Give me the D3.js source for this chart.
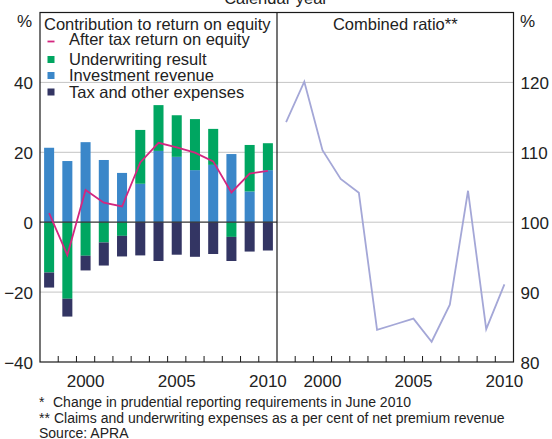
<!DOCTYPE html>
<html lang="en">
<head>
<meta charset="UTF-8">
<title>Contribution to return on equity and combined ratio</title>
<style>
  html, body { margin: 0; padding: 0; background: #fff; }
  svg { display: block; font-family: "Liberation Sans", Arial, sans-serif; }
  text { fill: #222; }
</style>
</head>
<body>
<svg id="chart" width="552" height="439"></svg>
<script src="https://cdn.jsdelivr.net/npm/d3@7"></script>
<script>
// data
const years = ['1998', '1999', '2000', '2001', '2002', '2003', '2004', '2005', '2006', '2007', '2008', '2009', '2010'];
const investment = [21.3, 17.5, 22.9, 17.8, 14.1, 11.0, 20.4, 18.7, 14.9, 16.4, 19.5, 8.8, 14.9];
const underwriting = [-14.4, -21.9, -9.6, -5.8, -3.9, 15.4, 13.1, 11.9, 14.6, 10.3, -4.2, 13.3, 7.7];
const taxOther = [-4.3, -5.1, -4.2, -6.6, -5.9, -9.5, -11.1, -9.3, -9.9, -9.1, -6.9, -8.4, -8.1];
const afterTaxRoe = [2.6, -9.4, 9.2, 5.6, 4.5, 17.1, 22.7, 21.4, 19.9, 17.4, 8.5, 13.9, 14.7];
const combinedRatio = [114.3, 120.1, 110.3, 106.2, 104.2, 84.6, 85.4, 86.2, 82.9, 88.2, 104.5, 84.7, 91.1];
const leftTicks = [-40, -20, 0, 20, 40];
const rightTicks = [80, 90, 100, 110, 120];
const yearLabels = ['2000', '2005', '2010'];

const svg = d3.select('#chart');
const plotTop = 12.5, plotBottom = 362;
const xL0 = 40, xMid = 277, xR1 = 513.5;

const yL = d3.scaleLinear().domain([-40, 60]).range([plotBottom, plotTop]);
const yR = d3.scaleLinear().domain([80, 130]).range([plotBottom, plotTop]);
const xLeft = d3.scaleBand().domain(years).range([xL0, xMid]);
const xRight = d3.scaleBand().domain(years).range([xMid, xR1]);
const barFrac = 0.55;

// gridlines across both panels
svg.append('g').selectAll('line')
  .data(leftTicks.filter(d => d !== 0 && d !== -40))
  .join('line')
  .attr('x1', xL0).attr('x2', xR1)
  .attr('y1', d => yL(d)).attr('y2', d => yL(d))
  .attr('stroke', '#c4c4c4').attr('stroke-width', 1);
svg.append('line')
  .attr('x1', xMid).attr('x2', xR1)
  .attr('y1', yR(100)).attr('y2', yR(100))
  .attr('stroke', '#c4c4c4').attr('stroke-width', 1);

// stacked bars
const rows = years.map((y, i) => ({ year: y, inv: investment[i], uw: underwriting[i], tax: taxOther[i] }));
const stack = d3.stack().keys(['inv', 'uw', 'tax']).offset(d3.stackOffsetDiverging);
const colors = { inv: '#3b87c9', uw: '#00a661', tax: '#333563' };

svg.append('g').selectAll('g')
  .data(stack(rows))
  .join('g')
  .attr('fill', d => colors[d.key])
  .selectAll('rect')
  .data(d => d)
  .join('rect')
  .attr('x', d => xLeft(d.data.year) + xLeft.bandwidth() * (1 - barFrac) / 2)
  .attr('width', xLeft.bandwidth() * barFrac)
  .attr('y', d => yL(Math.max(d[0], d[1])))
  .attr('height', d => Math.abs(yL(d[0]) - yL(d[1])));

// zero line on the left panel
svg.append('line')
  .attr('x1', xL0).attr('x2', xMid)
  .attr('y1', yL(0)).attr('y2', yL(0))
  .attr('stroke', '#333').attr('stroke-width', 1.2);

// after tax return on equity
const roeLine = d3.line()
  .x((d, i) => xLeft(years[i]) + xLeft.bandwidth() / 2)
  .y(d => yL(d));
svg.append('path')
  .datum(afterTaxRoe)
  .attr('d', roeLine)
  .attr('fill', 'none')
  .attr('stroke', '#d4267f')
  .attr('stroke-width', 1.8);

// combined ratio
const crLine = d3.line()
  .x((d, i) => xRight(years[i]) + xRight.bandwidth() / 2)
  .y(d => yR(d));
svg.append('path')
  .datum(combinedRatio)
  .attr('d', crLine)
  .attr('fill', 'none')
  .attr('stroke', '#a4a7d7')
  .attr('stroke-width', 1.8);

// frame
svg.append('rect')
  .attr('x', xL0).attr('y', plotTop)
  .attr('width', xR1 - xL0).attr('height', plotBottom - plotTop)
  .attr('fill', 'none').attr('stroke', '#1a1a1a').attr('stroke-width', 1.2);
svg.append('line')
  .attr('x1', xMid).attr('x2', xMid).attr('y1', plotTop).attr('y2', plotBottom)
  .attr('stroke', '#1a1a1a').attr('stroke-width', 1.2);

// year boundary ticks
[xLeft, xRight].forEach(sc => {
  svg.append('g').selectAll('line')
    .data(years.slice(1))
    .join('line')
    .attr('x1', d => sc(d)).attr('x2', d => sc(d))
    .attr('y1', plotBottom).attr('y2', plotBottom - 6)
    .attr('stroke', '#1a1a1a').attr('stroke-width', 1);
});

// axes text
const styleAxis = g => {
  g.select('.domain').remove();
  g.selectAll('text').attr('font-size', 17).attr('fill', '#222');
  g.attr('font-family', null);
};
svg.append('g')
  .attr('transform', `translate(${xL0},0)`)
  .call(d3.axisLeft(yL).tickValues(leftTicks).tickSize(0).tickPadding(7))
  .call(styleAxis)
  .selectAll('text').attr('dy', '0.38em');
svg.append('g')
  .attr('transform', `translate(${xR1},0)`)
  .call(d3.axisRight(yR).tickValues(rightTicks).tickSize(0).tickPadding(7))
  .call(styleAxis)
  .selectAll('text').attr('dy', '0.38em');
[xLeft, xRight].forEach(sc => {
  svg.append('g')
    .attr('transform', `translate(0,${plotBottom})`)
    .call(d3.axisBottom(sc).tickValues(yearLabels).tickSize(0).tickPadding(13))
    .call(styleAxis);
});

svg.append('text').attr('x', 32).attr('y', 27).attr('text-anchor', 'end').attr('font-size', 17).text('%');
svg.append('text').attr('x', 520).attr('y', 27).attr('font-size', 17).text('%');
svg.append('text').attr('x', 276).attr('y', 4).attr('text-anchor', 'middle').attr('font-size', 16.5).text('Calendar year');
svg.append('text').attr('x', (xMid + xR1) / 2).attr('y', 30).attr('text-anchor', 'middle').attr('font-size', 16.5).text('Combined ratio**');

// legend
const legend = svg.append('g').attr('font-size', 16.5);
legend.append('text').attr('x', 44).attr('y', 29.5).text('Contribution to return on equity');
const items = [
  { label: 'After tax return on equity', type: 'line', color: '#d4267f', y: 45 },
  { label: 'Underwriting result', type: 'box', color: colors.uw, y: 65 },
  { label: 'Investment revenue', type: 'box', color: colors.inv, y: 81 },
  { label: 'Tax and other expenses', type: 'box', color: colors.tax, y: 97.5 }
];
items.forEach(it => {
  if (it.type === 'line') {
    legend.append('line').attr('x1', 47.5).attr('x2', 54.5)
      .attr('y1', it.y - 3.5).attr('y2', it.y - 3.5)
      .attr('stroke', it.color).attr('stroke-width', 1.8);
  } else {
    legend.append('rect').attr('x', 47.5).attr('y', it.y - 9).attr('width', 7).attr('height', 7).attr('fill', it.color);
  }
  legend.append('text').attr('x', 69).attr('y', it.y).text(it.label);
});

// footnotes
const notes = svg.append('g').attr('font-size', 14);
notes.append('text').attr('x', 39).attr('y', 406.5).text('*');
notes.append('text').attr('x', 53).attr('y', 406.5).text('Change in prudential reporting requirements in June 2010');
notes.append('text').attr('x', 39).attr('y', 422.5).text('**');
notes.append('text').attr('x', 54).attr('y', 422.5).text('Claims and underwriting expenses as a per cent of net premium revenue');
notes.append('text').attr('x', 39).attr('y', 437.5).text('Source: APRA');
</script>
</body>
</html>
